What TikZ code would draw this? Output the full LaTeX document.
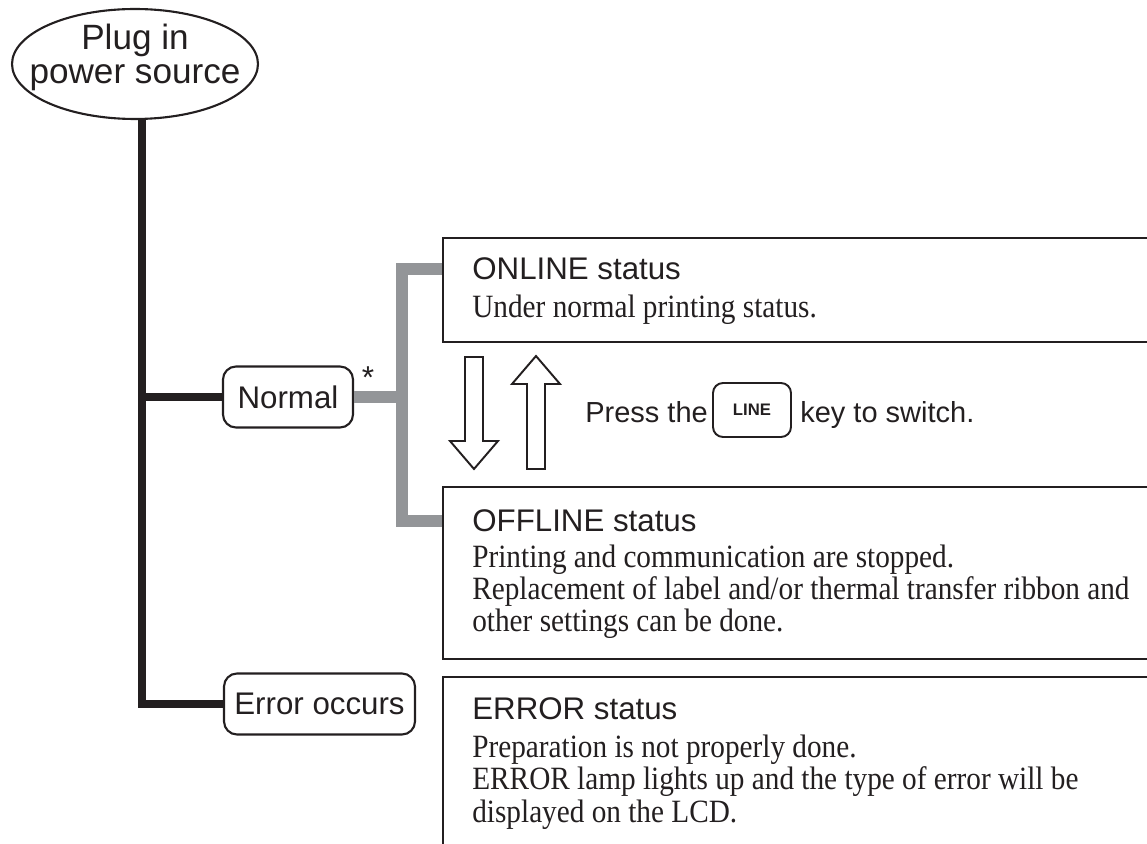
\documentclass[tikz,border=0pt]{standalone}
\usepackage{fontspec}
\setmainfont{Liberation Serif}
\setsansfont{Liberation Sans}
\newfontfamily\bodyserif[FakeStretch=0.9]{Liberation Serif}
\usepackage{tikz}
\usetikzlibrary{shapes.geometric,positioning}
\definecolor{inkblack}{HTML}{231F20}
\definecolor{branchgray}{HTML}{939598}

\begin{document}
\begin{tikzpicture}[x=0.02cm, y=-0.02cm,
    condbox/.style={draw=inkblack, line width=1.2pt, rounded corners=0.26cm, minimum height=1.22cm, inner sep=0pt, text=inkblack, font=\sffamily\fontsize{17.8}{21}\selectfont},
    plugoval/.style={draw=inkblack, line width=1.2pt, ellipse, minimum width=4.92cm, minimum height=2.2cm, inner sep=0pt},
    plugtext/.style={align=center, inner sep=0pt, text=inkblack, font=\sffamily\fontsize{20}{19.5}\selectfont},
    statustitle/.style={anchor=base west, inner sep=0pt, text=inkblack, font=\sffamily\fontsize{17.8}{21}\selectfont},
    statusbody/.style={anchor=base west, inner sep=0pt, align=left, text=inkblack, font=\bodyserif\fontsize{18.5}{18.4}\selectfont},
    boxedge/.style={draw=inkblack, line width=1.5pt},
    blackline/.style={draw=inkblack, line width=4.5pt},
    grayline/.style={draw=branchgray, line width=6.8pt},
    hollowarrow/.style={draw=inkblack, line width=1.1pt, line join=miter},
    keybox/.style={draw=inkblack, line width=1.1pt, rounded corners=0.2cm, minimum width=1.56cm, minimum height=1.08cm, inner sep=0pt, text=inkblack, font=\sffamily\bfseries\fontsize{9.5}{11}\selectfont}
]
\useasboundingbox (0,0) rectangle (1147,844);

% start
\node[plugoval] (plug) at (135,64) {};
\node[plugtext, anchor=base] (plugtxt) at (135,84) {Plug in\\power source};

% conditions
\node[condbox, minimum width=2.6cm] (normal) at (288,397) {Normal};
\node[condbox, minimum width=3.82cm] (error) at (319.5,704) {Error occurs};
\node[anchor=north, inner sep=0pt, text=inkblack, font=\sffamily\fontsize{18}{18}\selectfont] (star) at (368,366) {*};

% status texts (multi-line nodes sit on their last baseline)
\node[statustitle] (ontitle) at (472,280) {ONLINE status};
\node[statusbody] (onbody) at (472,318) {Under normal printing status.};
\node[statustitle] (offtitle) at (472,532) {OFFLINE status};
\node[statusbody] (offbody) at (472,632) {Printing and communication are stopped.\\Replacement of label and/or thermal transfer ribbon and\\other settings can be done.};
\node[statustitle] (errtitle) at (472,719) {ERROR status};
\node[statusbody] (errbody) at (472,822) {Preparation is not properly done.\\ERROR lamp lights up and the type of error will be\\displayed on the LCD.};

% switching
\node[keybox] (linekey) at (752,410) {LINE};
\node[statustitle, font=\sffamily\fontsize{16.5}{20}\selectfont] (press) at (585,423) {Press the};
\node[statustitle, font=\sffamily\fontsize{16.5}{20}\selectfont] (switch) at (800,423) {key to switch.};
\draw[hollowarrow] (465,357) -- (483,357) -- (483,441) -- (498,441) -- (474,469) -- (450,441) -- (465,441) -- cycle;
\draw[hollowarrow] (536,356) -- (560,384) -- (545,384) -- (545,469) -- (527,469) -- (527,384) -- (512,384) -- cycle;

% connectors
\coordinate (bend) at (142,704);
\coordinate (jct) at (402,397);
\coordinate (onNW) at (443,238);
\coordinate (offNW) at (443,487);
\coordinate (errNW) at (443,677);
\draw[blackline] (plug.south -| bend) -- (bend) -- (error.west);
\draw[blackline] (normal.west -| bend) -- (normal.west);
\draw[grayline] (normal.east) -- (jct);
\draw[grayline] (ontitle.west -| onNW) -- (ontitle.west -| jct) -- (offtitle.west -| jct) -- (offtitle.west -| offNW);

% status boxes, open to the right
\draw[boxedge] (1147,238) -- (onNW) -- (443,342) -- (1147,342);
\draw[boxedge] (1147,487) -- (offNW) -- (443,659) -- (1147,659);
\draw[boxedge] (1147,677) -- (errNW) -- (443,844);
\end{tikzpicture}
\end{document}
